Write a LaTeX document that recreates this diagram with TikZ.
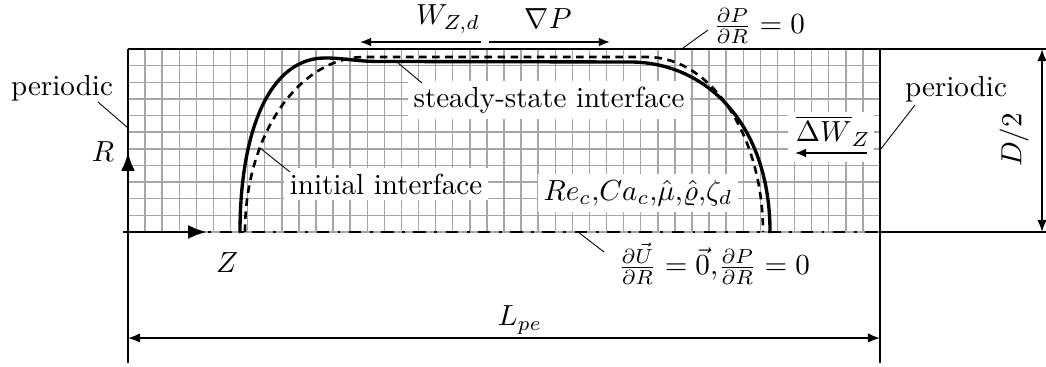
\documentclass[tikz,border=0pt]{standalone}
\usetikzlibrary{arrows.meta}
\definecolor{gridc}{RGB}{165,165,172}
\begin{document}
\begin{tikzpicture}[x=0.344pt,y=-0.344pt,
  gridline/.style={gridc,line width=0.5pt},
  border/.style={black,line width=0.45pt},
  extline/.style={black,line width=0.75pt},
  leader/.style={black,line width=0.3pt},
  dimarrow/.style={line width=0.75pt,{Latex[length=4.2pt,width=3.4pt]}-{Latex[length=4.2pt,width=3.4pt]}},
  axisarrow/.style={line width=1pt,-{Latex[length=6.5pt,width=4.8pt]}},
  flowarrow/.style={line width=0.6pt,-{Latex[length=3.8pt,width=3pt]}},
  steady/.style={line width=1.15pt,line cap=round},
  initial/.style={line width=0.9pt,dash pattern=on 2.6pt off 1.9pt},
  symline/.style={line width=0.85pt,dash pattern=on 4.3pt off 2.9pt on 1pt off 2.9pt},
  lbl/.style={inner sep=1pt},
  wlbl/.style={fill=white,inner sep=2pt}]
\useasboundingbox (0,0) rectangle (1046,367);
% grid
\foreach \i in {0,...,44}{
  \pgfmathsetmacro\gx{128+\i*17.0909}
  \draw[gridline] (\gx,49) -- (\gx,232);
}
\foreach \j in {0,...,11}{
  \pgfmathsetmacro\gy{49+\j*16.636}
  \draw[gridline] (128,\gy) -- (880,\gy);
}
% coordinates
\coordinate (TL) at (128,49);
\coordinate (TR) at (880,49);
\coordinate (BL) at (128,232);
\coordinate (BR) at (880,232);
\coordinate (AxS) at (123,232);
\coordinate (Rtip) at (128,152);
\coordinate (Ztip) at (207,232);
\coordinate (LlowL) at (128,363);
\coordinate (LlowR) at (880,363);
\coordinate (TopExtS) at (863,49);
\coordinate (TopExtE) at (1046,49);
\coordinate (BotExtE) at (1046,232);
\coordinate (LpeL) at (128,338);
\coordinate (LpeR) at (880,338);
\coordinate (DT) at (1042,49);
\coordinate (DB) at (1042,232);
% borders
\draw[border] (TL) -- (TR);
\draw[border] (TL) -- (BL);
\draw[border] (TR) -- (BR);
\draw[extline] (BL) -- (LlowL);
\draw[extline] (BR) -- (LlowR);
\draw[extline] (TopExtS) -- (TopExtE);
\draw[extline] (BR) -- (BotExtE);
% symmetry axis
\draw[symline] (AxS) -- (BR);
% initial interface (two elliptic caps joined by a flat top)
\draw[initial] (245,232) .. controls (245,135.3) and (298.7,57) .. (365,57)
  -- (647,57) .. controls (711,57) and (763,135.3) .. (763,232);
% steady-state interface
\draw[steady] (240,232) .. controls (240,130) and (270,58) .. (325,58)
  .. controls (345,58) and (355,61.5) .. (380,61.5)
  -- (630,62) .. controls (706,62) and (770,124) .. (770,232);
% axes
\draw[axisarrow] (BL) -- (Rtip);
\draw[axisarrow] (AxS) -- (Ztip);
\node[lbl] (Rl) at (103,152) {$R$};
\node[lbl] (Zl) at (227,263) {$Z$};
% dimensions
\draw[dimarrow] (LpeL) -- (LpeR);
\node[lbl] (Lpe) at (520,320) {$L_{pe}$};
\draw[dimarrow] (DT) -- (DB);
\node[lbl,rotate=90] (D2) at (1014,140) {$D/2$};
% flow arrows
\coordinate (Wa) at (481,42);
\coordinate (Wb) at (360,42);
\coordinate (Pa) at (489,42);
\coordinate (Pb) at (610,42);
\draw[flowarrow] (Wa) -- (Wb);
\draw[flowarrow] (Pa) -- (Pb);
\node[lbl] (Wl) at (448,19) {$W_{Z,d}$};
\node[lbl] (Pl) at (548,19) {$\nabla P$};
% labels with leaders
\node[lbl] (perL) at (62,88) {periodic};
\coordinate (perLa) at (98,102);
\coordinate (perLb) at (128,128);
\draw[leader] (perLa) -- (perLb);
\node[lbl] (perR) at (956,89) {periodic};
\coordinate (perRa) at (915,105);
\coordinate (perRb) at (880,150);
\draw[leader] (perRa) -- (perRb);
\node[wlbl] (ini) at (386,184) {initial interface};
\coordinate (inia) at (260,148);
\coordinate (inib) at (290,172);
\draw[leader] (inia) -- (inib);
\node[wlbl] (ss) at (549,100) {steady-state interface};
\coordinate (ssa) at (398,63);
\coordinate (ssb) at (422,83);
\draw[leader] (ssa) -- (ssb);
\node[wlbl] (par) at (638,193) {$Re_c{,}Ca_c{,}\hat{\mu}{,}\hat{\varrho}{,}\zeta_d$};
\node[lbl] (dpt) at (759,26) {$\frac{\partial P}{\partial R}=0$};
\coordinate (dpta) at (683,48);
\coordinate (dptb) at (708,30);
\draw[leader] (dpta) -- (dptb);
\node[lbl] (bot) at (714,264) {$\frac{\partial \vec{U}}{\partial R}=\vec{0}{,}\frac{\partial P}{\partial R}=0$};
\coordinate (bota) at (578,232);
\coordinate (botb) at (604,252);
\draw[leader] (bota) -- (botb);
% Delta W_Z
\fill[white] (788,112) rectangle (874,162);
\node[lbl] (dw) at (833,131) {$\overline{\Delta W}_Z$};
\coordinate (dwa) at (867,153);
\coordinate (dwb) at (795,153);
\draw[flowarrow] (dwa) -- (dwb);
\end{tikzpicture}
\end{document}
